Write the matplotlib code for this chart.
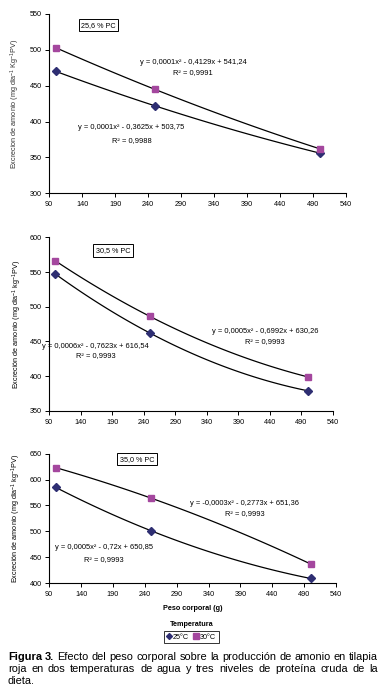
import matplotlib
matplotlib.use("Agg")
import matplotlib.pyplot as plt
import numpy as np

plt.rcParams['font.family'] = ['Liberation Sans', 'DejaVu Sans']
plt.rcParams['mathtext.fontset'] = 'custom'
plt.rcParams['mathtext.rm'] = 'Liberation Sans'
plt.rcParams['mathtext.it'] = 'Liberation Sans'

# peso corporal (g)
peso = [100, 250, 500]

# excrecion de amonio, por nivel de proteina
t25_p1 = [470, 422, 356]
t30_p1 = [503, 445, 362]
t25_p2 = [547, 462, 379]
t30_p2 = [566, 486, 399]
t25_p3 = [585, 501, 409]
t30_p3 = [623, 564, 437]

pc_labels = ['25,6 % PC', '30,5 % PC', '35,0 % PC']
eq30 = ['y = 0,0001x² - 0,4129x + 541,24', 'y = 0,0005x² - 0,6992x + 630,26',
        'y = -0,0003x² - 0,2773x + 651,36']
r30 = ['R² = 0,9991', 'R² = 0,9993', 'R² = 0,9993']
eq25 = ['y = 0,0001x² - 0,3625x + 503,75', 'y = 0,0006x² - 0,7623x + 616,54',
        'y = 0,0005x² - 0,72x + 650,85']
r25 = ['R² = 0,9988', 'R² = 0,9993', 'R² = 0,9993']

ylabels = ['Excrecion de amonio (mg dia$^{-1}$ Kg$^{-1}$PV)',
           'Excreción de amonio (mg dia$^{-1}$ kg$^{-1}$PV)',
           'Excreción de amonio (mg dia$^{-1}$ kg$^{-1}$PV)']
ylims = [(300, 550), (350, 600), (400, 650)]

c25 = '#2E2E72'
c30 = '#A4479E'

fig = plt.figure(figsize=(3.84, 7.0), dpi=100)

boxes = [[0.128, 0.724, 0.773, 0.256],
         [0.128, 0.413, 0.739, 0.248],
         [0.128, 0.167, 0.747, 0.185]]

# text positions (data coords)
pc_pos = [(165, 534), (191, 581), (228, 639)]
e30_pos = [(308, 483, 468), (432, 464, 450), (397, 553, 535)]
e25_pos = [(215, 391, 374), (164, 443, 429), (176, 468, 446)]

series = [(t25_p1, t30_p1), (t25_p2, t30_p2), (t25_p3, t30_p3)]
xs = np.linspace(peso[0], peso[-1], 100)

for i in range(3):
    ax = fig.add_axes(boxes[i])
    a, b = series[i]
    for vals, col, mk in [(a, c25, 'D'), (b, c30, 's')]:
        coef = np.polyfit(peso, vals, 2)
        ax.plot(xs, np.polyval(coef, xs), color='black', lw=0.9, zorder=2)
        ax.plot(peso, vals, linestyle='none', marker=mk, color=col,
                markersize=4 if mk == 's' else 3.6, zorder=3)
    ax.set_xlim(90, 540)
    ax.set_ylim(*ylims[i])
    ax.set_xticks(np.arange(90, 541, 50))
    ax.set_yticks(np.arange(ylims[i][0], ylims[i][1] + 1, 50))
    for s in ['top', 'right']:
        ax.spines[s].set_visible(False)
    for s in ['left', 'bottom']:
        ax.spines[s].set_linewidth(0.8)
    ax.tick_params(labelsize=5.2, length=3, width=0.7, pad=2.5, direction='out')
    ax.set_ylabel(ylabels[i], fontsize=5.2, color='#333333' if i == 0 else 'black')
    ax.yaxis.set_label_coords(-0.09, 0.5)

    ax.text(pc_pos[i][0], pc_pos[i][1], pc_labels[i], fontsize=5.2, ha='center', va='center',
            bbox=dict(boxstyle='square,pad=0.35', fc='white', ec='black', lw=0.7))
    x, y1, y2 = e30_pos[i]
    ax.text(x, y1, eq30[i], fontsize=5.4, ha='center', va='center')
    ax.text(x, y2, r30[i], fontsize=5.4, ha='center', va='center')
    x, y1, y2 = e25_pos[i]
    ax.text(x, y1, eq25[i], fontsize=5.4, ha='center', va='center')
    ax.text(x, y2, r25[i], fontsize=5.4, ha='center', va='center')

fig.text(0.502, 1 - 608 / 700, 'Peso corporal (g)', fontsize=5.2, fontweight='bold',
         ha='center', va='center')
fig.text(0.498, 1 - 624 / 700, 'Temperatura', fontsize=5.2, fontweight='bold',
         ha='center', va='center')

h1, = plt.plot([], [], linestyle='none', marker='D', color=c25, markersize=3)
h2, = plt.plot([], [], linestyle='none', marker='s', color=c30, markersize=4)
leg = fig.legend([h1, h2], ['25°C', '30°C'], loc='center', ncol=2,
                 bbox_to_anchor=(0.498, 1 - 637 / 700), fontsize=5.2, frameon=True,
                 fancybox=False, edgecolor='black', handlelength=0.6, handletextpad=0.3,
                 columnspacing=0.6, borderpad=0.35, borderaxespad=0)
leg.get_frame().set_linewidth(0.7)

# caption, justified word by word
caption = [
    (['Figura', '3.', 'Efecto', 'del', 'peso', 'corporal', 'sobre', 'la', 'producción', 'de',
      'amonio', 'en', 'tilapia'], True),
    (['roja', 'en', 'dos', 'temperaturas', 'de', 'agua', 'y', 'tres', 'niveles', 'de',
      'proteína', 'cruda', 'de', 'la'], True),
    (['dieta.'], False),
]
line_y = [657, 669, 681]
x0, x1 = 8, 378
renderer = fig.canvas.get_renderer()
wcount = 0
for (words, justify), yl in zip(caption, line_y):
    texts = []
    for w in words:
        bold = wcount < 2
        t = fig.text(0, 1 - yl / 700, w, fontsize=7.9, ha='left', va='center',
                     fontweight='bold' if bold else 'normal')
        texts.append(t)
        wcount += 1
    widths = [t.get_window_extent(renderer).width for t in texts]
    if justify and len(texts) > 1:
        gap = (x1 - x0 - sum(widths)) / (len(texts) - 1)
    else:
        gap = 2.2
    xp = x0
    for t, w in zip(texts, widths):
        t.set_x(xp / 384)
        xp += w + gap

fig.savefig('out.png', dpi=100)
